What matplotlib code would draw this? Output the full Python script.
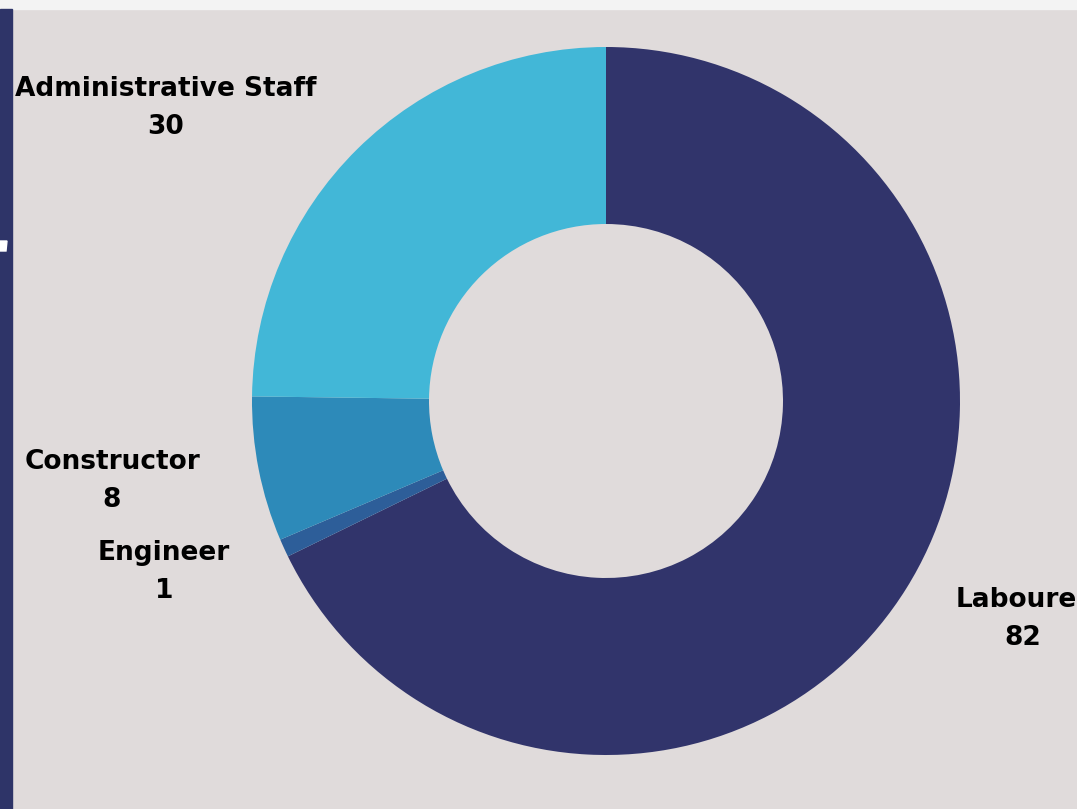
import matplotlib
matplotlib.use("Agg")
import matplotlib.pyplot as plt
from matplotlib.patches import Rectangle, Polygon

categories = ["Labourer", "Engineer", "Constructor", "Administrative Staff"]
values = [82, 1, 8, 30]
colors = ["#31346B", "#2D5E99", "#2D8AB9", "#42B7D7"]

W, H = 1077, 809
fig = plt.figure(figsize=(W / 100, H / 100), dpi=100)
fig.patch.set_facecolor("#E0DBDB")
ax = fig.add_axes([0, 0, 1, 1])

# donut (y inverted so counterclock=True draws clockwise on screen)
cx, cy, r = 606, 401, 354
ax.pie(values, colors=colors, startangle=-90, counterclock=True,
       center=(cx, cy), radius=r, frame=True,
       wedgeprops=dict(width=r * 0.5, linewidth=0))
ax.set_xlim(0, W)
ax.set_ylim(H, 0)
ax.set_aspect("equal")
ax.axis("off")

# decorative frame
ax.add_patch(Rectangle((0, 0), W, 9, color="#F3F3F3", zorder=5))
ax.add_patch(Rectangle((0, 9), 12, H, color="#2E3468", zorder=5))
ax.add_patch(Polygon([(0, 241), (7, 241), (6, 251), (0, 251)], color="white", zorder=6))

label_pos = {
    "Labourer": (1023, 619),
    "Engineer": (164, 572),
    "Constructor": (112, 481),
    "Administrative Staff": (166, 108),
}
font = dict(fontsize=19, fontweight="bold", color="black", family="DejaVu Sans",
            ha="center", va="center", linespacing=1.62)
for cat, val in zip(categories, values):
    x, y = label_pos[cat]
    ax.text(x, y, f"{cat}\n{val}", **font)

fig.savefig("out.png", dpi=100, facecolor=fig.get_facecolor())
